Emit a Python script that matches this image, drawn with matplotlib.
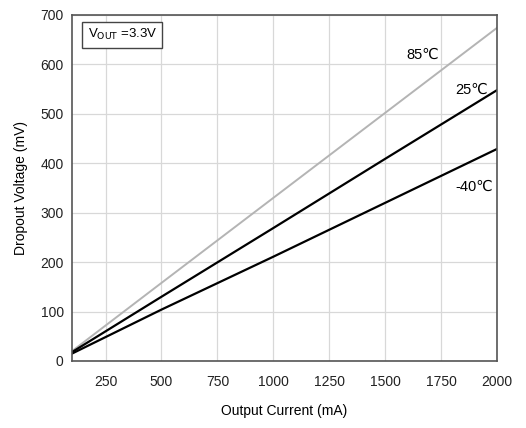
import matplotlib
matplotlib.use("Agg")
import matplotlib.pyplot as plt

current = [100, 500, 1000, 1500, 2000]
drop_85 = [20, 158, 330, 502, 674]
drop_25 = [18, 130, 269, 409, 548]
drop_m40 = [15, 104, 211, 320, 429]

x_ticks = [250, 500, 750, 1000, 1250, 1500, 1750, 2000]
y_ticks = [0, 100, 200, 300, 400, 500, 600, 700]


def main():
    plt.rcParams['font.family'] = ['Liberation Sans', 'DejaVu Sans']
    fig = plt.figure(figsize=(5.26, 4.28), dpi=100)
    ax = fig.add_axes([72 / 526, 1 - 361 / 428, 425 / 526, 346 / 428])

    ax.plot(current, drop_85, color="#b4b4b4", lw=1.4)
    ax.plot(current, drop_25, color="black", lw=1.6)
    ax.plot(current, drop_m40, color="black", lw=1.6)

    ax.set_xlim(100, 2000)
    ax.set_ylim(0, 700)
    ax.set_xticks(x_ticks)
    ax.set_yticks(y_ticks)
    ax.grid(True, color="#d8d8d8", lw=0.9)
    ax.tick_params(length=0, labelsize=10, colors="#222222")
    ax.tick_params(axis="x", pad=10)
    ax.tick_params(axis="y", pad=6)
    for s in ax.spines.values():
        s.set_color("#555555")
        s.set_linewidth(1.2)

    ax.text(1670, 620, "85\u2103", fontsize=10.5, ha="center", va="center")
    ax.text(1885, 548, "25\u2103", fontsize=10.5, ha="center", va="center")
    ax.text(1900, 352, "-40\u2103", fontsize=10.5, ha="center", va="center")

    ax.text(170, 660, r"V$_{\rm OUT}$ =3.3V", fontsize=9.5, va="center",
            bbox=dict(boxstyle="square,pad=0.4", fc="white", ec="#444444", lw=1))

    ax.set_xlabel("Output Current (mA)", fontsize=10, labelpad=11)
    ax.set_ylabel("Dropout Voltage (mV)", fontsize=10, labelpad=9)

    fig.savefig("out.png", dpi=100)


if __name__ == "__main__":
    main()
